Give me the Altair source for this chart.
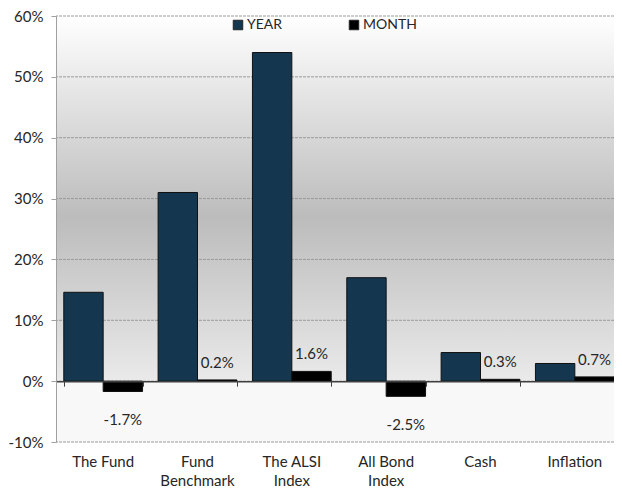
import altair as alt
import pandas as pd

categories = ["The Fund", "Fund|Benchmark", "The ALSI|Index", "All Bond|Index", "Cash", "Inflation"]
series = ["YEAR", "MONTH"]
year_values = [14.6, 31.0, 54.0, 17.0, 4.7, 2.9]
month_values = [-1.7, 0.2, 1.6, -2.5, 0.3, 0.7]
y_ticks = [-10, 0, 10, 20, 30, 40, 50, 60]

rows = []
for c, yv, mv in zip(categories, year_values, month_values):
    rows.append({"category": c, "series": "YEAR", "value": yv})
    rows.append({"category": c, "series": "MONTH", "value": mv})
df = pd.DataFrame(rows)
month_df = df[df.series == "MONTH"].copy()
month_df["label"] = month_df["value"].map(lambda v: f"{v:.1f}%")
grid_df = pd.DataFrame({"tick": y_ticks})
bg_df = pd.DataFrame({"k": [0]})

W, H = 566, 426
FONT = "Lato"
TXT = "#262626"

x_scale = alt.Scale(domain=categories, paddingInner=0.165, paddingOuter=0.0825)
y_scale = alt.Scale(domain=[-10, 60], nice=False)
off_scale = alt.Scale(domain=series, paddingInner=0, paddingOuter=0)

y_axis = alt.Axis(values=y_ticks, labelExpr="datum.value + '%'", title=None, grid=False,
                  labelFont=FONT, labelFontSize=15, labelColor=TXT, labelPadding=8,
                  domainColor="#a0a0a0", tickColor="#a0a0a0", tickSize=5, zindex=1)
x_axis_labels = alt.Axis(title=None, domain=False, ticks=False, labelAngle=0,
                         labelExpr="split(datum.value, '|')", labelFont=FONT, labelFontSize=15,
                         labelColor=TXT, labelPadding=12, labelLineHeight=19, orient="bottom")
x_axis_zero = alt.Axis(title=None, labels=False, domain=True, domainColor="#404040", domainWidth=1.5,
                       ticks=True, tickBand="extent", tickSize=5, tickColor="#404040",
                       offset=-H * 10 / 70, orient="bottom", grid=False, zindex=1)

grad = alt.LinearGradient(gradient="linear", x1=0, x2=0, y1=0, y2=1, stops=[
    alt.GradientStop(color="#ffffff", offset=0),
    alt.GradientStop(color="#bcbcbc", offset=0.55),
    alt.GradientStop(color="#eaeaea", offset=1),
])

bg_top = alt.Chart(bg_df).mark_rect(color=grad).encode(
    x=alt.value(0), x2=alt.value(W),
    y=alt.Y(datum=60, type="quantitative", scale=y_scale, axis=y_axis), y2=alt.datum(0))
bg_bot = alt.Chart(bg_df).mark_rect(color="#f8f8f8").encode(
    x=alt.value(0), x2=alt.value(W),
    y=alt.Y(datum=0, type="quantitative", scale=y_scale, axis=y_axis), y2=alt.datum(-10))

grid = alt.Chart(grid_df).mark_rule(color="#9a9a9a", strokeDash=[3, 1], strokeWidth=1).encode(
    y=alt.Y("tick:Q", scale=y_scale, axis=y_axis))

bars = alt.Chart(df).mark_bar(stroke="#111111", strokeWidth=1).encode(
    x=alt.X("category:N", scale=x_scale, sort=categories, axis=x_axis_labels),
    xOffset=alt.XOffset("series:N", scale=off_scale, sort=series),
    y=alt.Y("value:Q", scale=y_scale, axis=y_axis),
    y2=alt.datum(0),
    color=alt.Color("series:N", scale=alt.Scale(domain=series, range=["#14374f", "#000000"]),
                    legend=alt.Legend(orient="none", legendX=175, legendY=2, direction="horizontal",
                                      title=None, symbolType="square", symbolSize=90,
                                      symbolStrokeColor="#222222", symbolStrokeWidth=1,
                                      labelFont=FONT, labelFontSize=14, labelColor=TXT,
                                      labelOffset=2, columnPadding=64)),
)

lab_pos = alt.Chart(month_df).transform_filter("datum.value >= 0").mark_text(
    font=FONT, fontSize=15, color=TXT, baseline="middle", dy=-17).encode(
    x=alt.X("category:N", scale=x_scale, sort=categories, axis=None),
    xOffset=alt.XOffset("series:N", scale=off_scale, sort=series),
    y=alt.Y("value:Q", scale=y_scale, axis=y_axis),
    text="label:N")

lab_neg = alt.Chart(month_df).transform_filter("datum.value < 0").mark_text(
    font=FONT, fontSize=15, color=TXT, baseline="middle", dy=29).encode(
    x=alt.X("category:N", scale=x_scale, sort=categories, axis=x_axis_zero),
    xOffset=alt.XOffset("series:N", scale=off_scale, sort=series),
    y=alt.Y("value:Q", scale=y_scale, axis=y_axis),
    text="label:N")

chart = alt.layer(bg_top, bg_bot, grid, bars, lab_pos, lab_neg).resolve_axis(x="independent").properties(
    width=W, height=H, autosize=alt.AutoSizeParams(type="none"),
    padding={"left": 48, "top": 8, "right": -8, "bottom": 50},
).configure_view(stroke=None)

chart.save("out.html", embed_options={"renderer": "svg", "actions": False})
